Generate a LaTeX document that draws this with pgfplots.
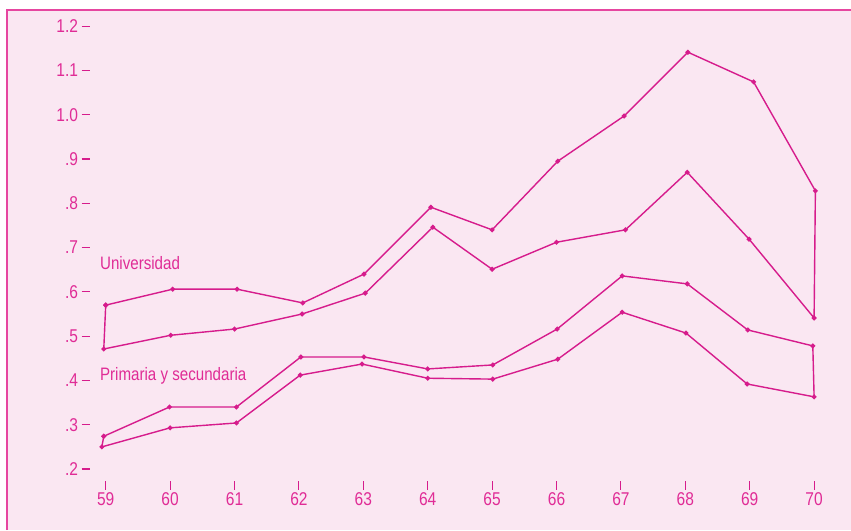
\documentclass[border=0pt]{standalone}
\usepackage{fontspec}
\setmainfont{Liberation Sans}[FakeStretch=0.84]
\usepackage{pgfplots}
\pgfplotsset{compat=1.18}
\definecolor{bgpink}{RGB}{250,231,242}
\definecolor{mag}{RGB}{214,28,140}
\definecolor{magtext}{RGB}{224,44,150}
\definecolor{bord}{RGB}{230,70,160}
\begin{document}
\begin{tikzpicture}[font=\fontsize{18}{21}\selectfont]
\fill[white] (0,0) rectangle (851pt,530pt);
\fill[bgpink] (7pt,0) rectangle (851pt,520pt);
\draw[bord, line width=1.5pt] (7pt,0) -- (7pt,520pt) -- (851pt,520pt);
\begin{axis}[
  at={(90pt,49pt)}, anchor=south west,
  scale only axis, width=756.3pt, height=466pt,
  xmin=58.756, xmax=70.5, ymin=0.173, ymax=1.225,
  axis x line*=bottom, axis y line*=left,
  axis line style={draw=none},
  tick align=outside,
  major tick length=8.5pt,
  tick style={line width=1.1pt, color=mag},
  xtick={59,60,61,62,63,64,65,66,67,68,69,70},
  xticklabels={59,60,61,62,63,64,65,66,67,68,69,70},
  ytick={0.2,0.3,0.4,0.5,0.6,0.7,0.8,0.9,1.0,1.1,1.2},
  yticklabels={.2,.3,.4,.5,.6,.7,.8,.9,1.0,1.1,1.2},
  /pgf/number format/assume math mode=true,
  tick label style={font=\fontsize{18.5}{21}\selectfont, text=magtext},
  clip=false,
]
% Universidad band (upper line, then lower line back)
\addplot[mag, line width=1.4pt, mark=*, mark size=1.7pt, mark options={solid, fill=mag, draw=mag}] coordinates {
(59.00,0.570) (60.04,0.606) (61.04,0.606) (62.06,0.575) (63.01,0.640) (64.05,0.791)
(65.00,0.740) (66.02,0.895) (67.05,0.997) (68.04,1.141) (69.06,1.074) (70.02,0.828)
(70.00,0.541) (68.99,0.719) (68.03,0.870) (67.07,0.740) (66.00,0.712) (65.00,0.651)
(64.08,0.746) (63.03,0.597) (62.05,0.550) (61.00,0.516) (60.01,0.502) (58.97,0.471)
(59.00,0.570)
};
% Primaria y secundaria band
\addplot[mag, line width=1.4pt, mark=*, mark size=1.7pt, mark options={solid, fill=mag, draw=mag}] coordinates {
(58.97,0.274) (59.99,0.340) (61.03,0.340) (62.03,0.453) (63.01,0.453) (64.00,0.426)
(65.01,0.435) (66.01,0.516) (67.02,0.636) (68.03,0.618) (68.97,0.514) (69.98,0.478)
(70.00,0.363) (68.96,0.392) (68.01,0.507) (67.02,0.554) (66.02,0.448) (65.01,0.403)
(64.00,0.405) (62.98,0.437) (62.02,0.412) (61.03,0.304) (60.00,0.293) (58.94,0.250)
(58.97,0.274)
};
\node[anchor=base west, inner sep=0pt, text=magtext] at (axis cs:58.91,0.651) {Universidad};
\node[anchor=base west, inner sep=0pt, text=magtext] at (axis cs:58.91,0.399) {Primaria y secundaria};
\end{axis}
\pgfresetboundingbox
\path[use as bounding box] (0,0) rectangle (851pt,530pt);
\end{tikzpicture}
\end{document}
